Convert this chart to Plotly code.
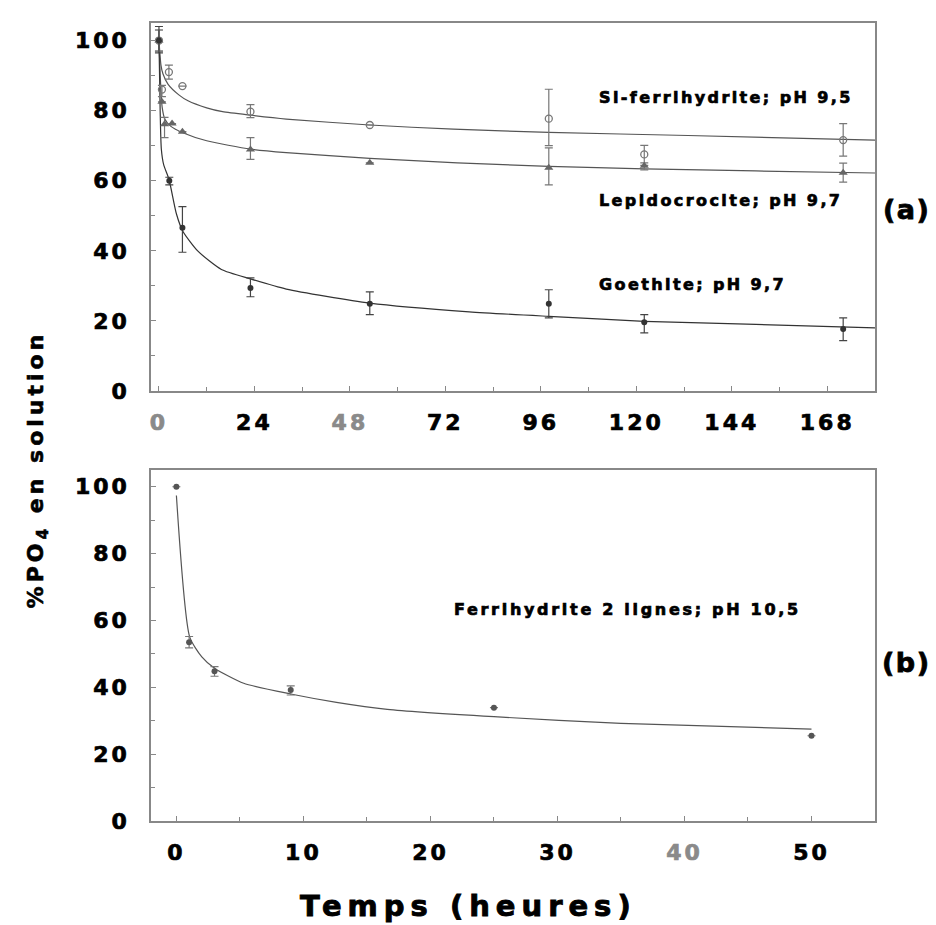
import plotly.graph_objects as go

# ---------------- data: panel (a) ----------------
# Si-ferrihydrite (open circles)
t_si = [0, 0.75, 2.5, 5.9, 23, 53, 98, 122, 172]
v_si = [100, 86, 91, 87, 79.7, 75.9, 77.7, 67.5, 71.6]
eu_si = [3, 1.2, 2, 0, 2, 0, 8.4, 2.6, 4.7]
ed_si = [3, 2, 2, 0, 1.7, 0, 7.7, 3.1, 4.6]
# fitted curve
ct_si = [0, 0.5, 1, 2.3, 5, 7.3, 12, 16, 23, 32, 53, 74, 98, 133, 180]
cv_si = [100, 93, 90.5, 87.5, 84.5, 82.8, 80.8, 79.7, 78.7, 77.6, 75.9, 74.7, 73.8, 72.9, 71.6]

# Lepidocrocite (filled triangles)
t_le = [0, 0.75, 1.4, 3.3, 5.9, 23, 53, 98, 122, 172]
v_le = [100, 82.5, 76.1, 76.3, 74, 68.9, 65.1, 63.7, 64.3, 62.3]
eu_le = [3, 0, 2, 0, 0, 3.4, 0, 5.7, 0.8, 2.7]
ed_le = [3, 0, 3.8, 0, 0, 2.8, 0, 4.9, 1.2, 2.7]
ct_le = [0, 0.4, 0.8, 1.5, 3, 6, 12, 23, 32, 53, 75, 98, 122, 150, 180]
cv_le = [100, 88, 81, 77.5, 75.5, 73.7, 71.4, 69, 68, 66.4, 65.1, 64.1, 63.4, 62.8, 62.2]

# Goethite (filled circles)
t_go = [0, 2.6, 5.9, 23, 53, 98, 122, 172]
v_go = [100, 60, 46.6, 29.4, 24.9, 24.9, 19.6, 17.7]
eu_go = [4, 1, 6, 2.9, 3.4, 4, 2.2, 3.2]
ed_go = [3.5, 1.2, 7, 2.5, 3.1, 4, 3, 3.3]
ct_go = [0, 0.3, 0.6, 1.2, 2.5, 4.4, 6, 9.8, 15.7, 23, 32, 53, 78, 98, 122, 150, 180]
cv_go = [100, 80, 69, 64.5, 60.5, 50.5, 45.6, 39.9, 34.7, 32, 29.1, 25.1, 22.6, 21.3, 19.9, 19, 18]

# ---------------- data: panel (b) ----------------
t_fe = [0, 1, 3, 9, 25, 50]
v_fe = [100, 53.5, 44.8, 39.2, 33.9, 25.5]
eu_fe = [0, 1.7, 1.4, 1.2, 0, 0]
ed_fe = [0, 1.7, 1.5, 1.5, 0, 0]
ct_fe = [0, 1.05, 2, 3, 5.3, 9, 12.6, 16.6, 25, 35, 50]
cv_fe = [97.4, 55, 49.1, 45.7, 41.2, 38, 35.5, 33.4, 31.2, 29.2, 27.5]

# tick labels
xa_vals = [0, 24, 48, 72, 96, 120, 144, 168]
xa_text = ['0', '24', '48', '72', '96', '120', '144', '168']
xa_gray = ['0', '48']
xb_vals = [0, 10, 20, 30, 40, 50]
xb_text = ['0', '10', '20', '30', '40', '50']
xb_gray = ['40']
y_vals = [0, 20, 40, 60, 80, 100]
y_text = ['0', '20', '40', '60', '80', '100']

FONT = 'DejaVu Sans'


def sp(s, ls=2.4, color='#000000', sw=0.7):
    st = 'letter-spacing:%spx;stroke:%s;stroke-width:%spx;color:%s' % (ls, color, sw, color)
    return '<span style="%s">%s</span>' % (st, s)


def ticktexts(texts, grays):
    return [sp(t, 3, '#8a8a8a' if t in grays else '#000000', 0.7) for t in texts]


fig = go.Figure()

LINE = '#555555'
ERR = '#777777'

# curves
fig.add_trace(go.Scatter(x=ct_si, y=cv_si, mode='lines', line=dict(color=LINE, width=1.2, shape='spline', smoothing=0.6), xaxis='x', yaxis='y'))
fig.add_trace(go.Scatter(x=ct_le, y=cv_le, mode='lines', line=dict(color=LINE, width=1.2, shape='spline', smoothing=0.6), xaxis='x', yaxis='y'))
fig.add_trace(go.Scatter(x=ct_go, y=cv_go, mode='lines', line=dict(color='#333333', width=1.2, shape='spline', smoothing=0.6), xaxis='x', yaxis='y'))

# points
fig.add_trace(go.Scatter(x=t_si, y=v_si, mode='markers',
                         marker=dict(symbol='circle-open', size=7, color='#777777', line=dict(width=1.3)),
                         error_y=dict(type='data', symmetric=False, array=eu_si, arrayminus=ed_si, color=ERR, thickness=1.2, width=4),
                         xaxis='x', yaxis='y'))
fig.add_trace(go.Scatter(x=t_le, y=v_le, mode='markers',
                         marker=dict(symbol='triangle-up', size=8, color='#666666'),
                         error_y=dict(type='data', symmetric=False, array=eu_le, arrayminus=ed_le, color=ERR, thickness=1.2, width=4),
                         xaxis='x', yaxis='y'))
fig.add_trace(go.Scatter(x=t_go, y=v_go, mode='markers',
                         marker=dict(symbol='circle', size=6, color='#333333'),
                         error_y=dict(type='data', symmetric=False, array=eu_go, arrayminus=ed_go, color='#444444', thickness=1.2, width=4),
                         xaxis='x', yaxis='y'))

# panel b
fig.add_trace(go.Scatter(x=ct_fe, y=cv_fe, mode='lines', line=dict(color=LINE, width=1.2, shape='spline', smoothing=0.6), xaxis='x2', yaxis='y2'))
fig.add_trace(go.Scatter(x=t_fe, y=v_fe, mode='markers',
                         marker=dict(symbol='circle', size=6, color='#555555'),
                         error_y=dict(type='data', symmetric=False, array=eu_fe, arrayminus=ed_fe, color=ERR, thickness=1.2, width=4),
                         xaxis='x2', yaxis='y2'))

axis_common = dict(showgrid=False, zeroline=False, showline=True, mirror=True,
                   linecolor='#888888', linewidth=1.5, ticks='inside', ticklen=5,
                   tickcolor='#888888', tickwidth=1,
                   tickfont=dict(family=FONT, size=22, color='black', weight='bold'))

fig.update_layout(
    width=936, height=925,
    margin=dict(l=143, r=69, t=15, b=112),
    paper_bgcolor='white', plot_bgcolor='white',
    showlegend=False,
    xaxis=dict(domain=[0, 1], range=[-2, 180], tickmode='array', tickvals=xa_vals,
               ticktext=ticktexts(xa_text, xa_gray), ticklabelstandoff=11,
               minor=dict(tickvals=[12, 36, 60, 84, 108, 132, 156, 180], ticks='inside', ticklen=4, tickcolor='#888888'),
               anchor='y', **axis_common),
    yaxis=dict(domain=[0.5388, 1], range=[0, 105], tickmode='array', tickvals=y_vals,
               ticktext=ticktexts(y_text, []), ticklabelstandoff=15,
               minor=dict(tickvals=[10, 30, 50, 70, 90], ticks='inside', ticklen=4, tickcolor='#888888'),
               anchor='x', **axis_common),
    xaxis2=dict(domain=[0, 1], range=[-2, 55], tickmode='array', tickvals=xb_vals,
                ticktext=ticktexts(xb_text, xb_gray), ticklabelstandoff=11,
                minor=dict(tickvals=[5, 15, 25, 35, 45], ticks='inside', ticklen=4, tickcolor='#888888'),
                anchor='y2', **axis_common),
    yaxis2=dict(domain=[0, 0.4398], range=[0, 105], tickmode='array', tickvals=y_vals,
                ticktext=ticktexts(y_text, []), ticklabelstandoff=15,
                minor=dict(tickvals=[10, 30, 50, 70, 90], ticks='inside', ticklen=4, tickcolor='#888888'),
                anchor='x2', **axis_common),
)

ann_font = dict(family=FONT, size=16, color='black', weight='bold')
annotations = [
    dict(x=110.0, y=83.7, xref='x', yref='y', text=sp('Si-ferrihydrite; pH 9,5'), xanchor='left', yanchor='middle', showarrow=False, font=ann_font),
    dict(x=110.0, y=54.3, xref='x', yref='y', text=sp('Lepidocrocite; pH 9,7'), xanchor='left', yanchor='middle', showarrow=False, font=ann_font),
    dict(x=110.0, y=30.3, xref='x', yref='y', text=sp('Goethite; pH 9,7'), xanchor='left', yanchor='middle', showarrow=False, font=ann_font),
    dict(x=21.7, y=63.3, xref='x2', yref='y2', text=sp('Ferrihydrite 2 lignes; pH 10,5', 2.7), xanchor='left', yanchor='middle', showarrow=False, font=ann_font),
    dict(x=1.043, y=0.766, xref='paper', yref='paper', text=sp('(a)', 1.5, '#000000', 0.8), xanchor='center', yanchor='middle', showarrow=False,
         font=dict(family=FONT, size=27, color='black', weight='bold')),
    dict(x=1.043, y=0.198, xref='paper', yref='paper', text=sp('(b)', 1.5, '#000000', 0.8), xanchor='center', yanchor='middle', showarrow=False,
         font=dict(family=FONT, size=27, color='black', weight='bold')),
    dict(x=0.438, y=-0.106, xref='paper', yref='paper', text=sp('Temps (heures)', 6, '#000000', 0.9), xanchor='center', yanchor='middle', showarrow=False,
         font=dict(family=FONT, size=29, color='black', weight='bold')),
    dict(x=-0.157, y=0.441, xref='paper', yref='paper', text=sp('%PO<sub>4</sub> en solution', 4, '#000000', 0.6), textangle=-90,
         xanchor='center', yanchor='middle', showarrow=False,
         font=dict(family=FONT, size=22, color='black', weight='bold')),
]
fig.update_layout(annotations=annotations)

fig.write_html('out.html')
